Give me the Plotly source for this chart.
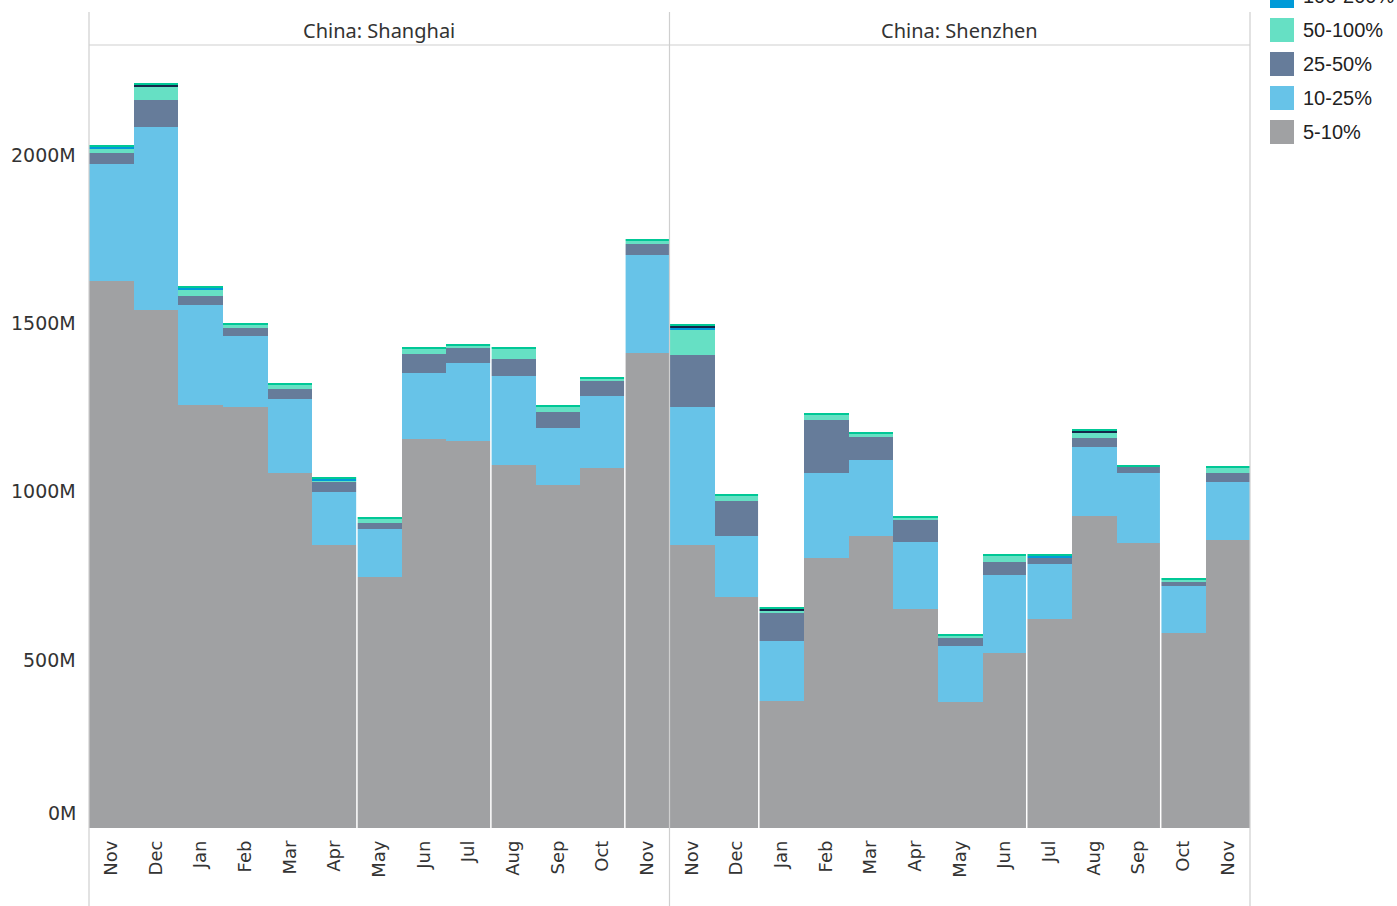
import plotly.graph_objects as go
from plotly.subplots import make_subplots

months = ["Nov", "Dec", "Jan", "Feb", "Mar", "Apr", "May", "Jun", "Jul", "Aug", "Sep", "Oct", "Nov"]
cities = ["China: Shanghai", "China: Shenzhen"]

series_names = ["5-10%", "10-25%", "25-50%", "50-100%", "100-200%", "200-500%", ">500%"]
series_colors = ["#a0a1a3", "#67c3e8", "#667c9a", "#66e0c4", "#009ad8", "#14284a", "#00c896"]

# Values in millions, stacked bottom -> top
sh_5_10 = [1626, 1540, 1258, 1252, 1056, 840, 745, 1157, 1151, 1077, 1018, 1068, 1412]
sh_10_25 = [346, 543, 297, 211, 217, 157, 142, 196, 229, 267, 169, 214, 291]
sh_25_50 = [34, 80, 24, 21, 30, 30, 18, 54, 47, 48, 50, 47, 33]
sh_50_100 = [14, 39, 20, 12, 15, 6, 12, 17, 6, 32, 15, 6, 9]
sh_100_200 = [3, 0, 6, 0, 0, 5, 0, 0, 0, 0, 0, 0, 0]
sh_200_500 = [0, 6, 0, 0, 0, 0, 0, 0, 0, 0, 0, 0, 0]
sh_500p = [5, 6, 6, 5, 5, 6, 6, 6, 6, 6, 6, 6, 6]

sz_5_10 = [840, 685, 377, 801, 866, 650, 374, 519, 620, 926, 846, 579, 855]
sz_10_25 = [412, 181, 178, 255, 226, 199, 166, 232, 163, 205, 210, 139, 172]
sz_25_50 = [152, 104, 83, 155, 71, 68, 24, 38, 18, 29, 15, 12, 29]
sz_50_100 = [77, 15, 6, 17, 6, 3, 6, 18, 0, 12, 0, 6, 12]
sz_100_200 = [3, 0, 0, 0, 0, 0, 0, 0, 6, 0, 0, 0, 0]
sz_200_500 = [6, 0, 6, 0, 0, 0, 0, 0, 0, 6, 0, 0, 0]
sz_500p = [6, 6, 6, 6, 6, 6, 6, 6, 6, 6, 6, 6, 6]

shanghai = [sh_5_10, sh_10_25, sh_25_50, sh_50_100, sh_100_200, sh_200_500, sh_500p]
shenzhen = [sz_5_10, sz_10_25, sz_25_50, sz_50_100, sz_100_200, sz_200_500, sz_500p]

y_ticks = [0, 500, 1000, 1500, 2000]
y_tick_text = ["0M", "500M", "1000M", "1500M", "2000M"]

# White separators seen between some months (bar boundaries, in category units)
sep_sh = [5.5, 8.5, 11.5]
sep_sz = [1.5, 7.5, 10.5]

W, H = 1397, 906
ML, MR, MT, MB = 89, 147, 45, 78
PW, PH = W - ML - MR, H - MT - MB

def px_x(p):  # page pixel -> paper x
    return (p - ML) / PW

def px_y(p):  # page pixel -> paper y
    return (H - MB - p) / PH

fig = make_subplots(rows=1, cols=2, shared_yaxes=True, horizontal_spacing=0)
xs = list(range(len(months)))
for col, data in enumerate([shanghai, shenzhen], start=1):
    for name, color, vals in zip(series_names, series_colors, data):
        fig.add_trace(go.Bar(x=xs, y=vals, name=name, marker_color=color,
                             marker_line_width=0, showlegend=False,
                             hovertemplate=name + ": %{y}M<extra></extra>"),
                      row=1, col=col)

fig.update_layout(barmode="stack", bargap=0, width=W, height=H,
                  margin=dict(l=ML, r=MR, t=MT, b=MB, autoexpand=False),
                  plot_bgcolor="white", paper_bgcolor="white",
                  font=dict(family="DejaVu Sans", size=15, color="#333333"),
                  showlegend=False)

for ax in ["xaxis", "xaxis2"]:
    fig.layout[ax].update(tickmode="array", tickvals=xs, ticktext=months,
                          tickangle=-90, range=[-0.5, 12.5], showgrid=False,
                          zeroline=False, showline=False, ticks="",
                          ticklabelstandoff=8,
                          tickfont=dict(family="DejaVu Sans", size=18, color="#333333"))
fig.update_yaxes(range=[0, 2326], showgrid=False, zeroline=False, showline=False,
                 showticklabels=False, ticks="")

# y tick labels as annotations (Tableau lifts the bottom label)
for v, t in zip(y_ticks, y_tick_text):
    fig.add_annotation(x=px_x(78), xref="paper", y=v, yref="y", text=t,
                       showarrow=False, xanchor="right",
                       yanchor="bottom" if v == 0 else "middle",
                       yshift=2 if v == 0 else 0,
                       font=dict(family="DejaVu Sans", size=19, color="#333333"))

# separators
for xv in sep_sh:
    fig.add_shape(type="line", xref="x", yref="paper", x0=xv, x1=xv, y0=0, y1=1,
                  line=dict(color="white", width=1.5))
for xv in sep_sz:
    fig.add_shape(type="line", xref="x2", yref="paper", x0=xv, x1=xv, y0=0, y1=1,
                  line=dict(color="white", width=1.5))

# frame lines
grid_col = "#cfcfcf"
for xp in [0, 0.5, 1]:
    fig.add_shape(type="line", xref="paper", yref="paper", x0=xp, x1=xp,
                  y0=px_y(906), y1=px_y(12), line=dict(color=grid_col, width=1.2))
fig.add_shape(type="line", xref="paper", yref="paper", x0=0, x1=1, y0=1, y1=1,
              line=dict(color=grid_col, width=1.2))

# facet headers
for i, c in enumerate(cities):
    fig.add_annotation(x=0.25 + 0.5 * i, xref="paper", y=px_y(30), yref="paper",
                       text=c, showarrow=False, xanchor="center", yanchor="middle",
                       font=dict(family="Noto Sans", size=20, color="#333333"))

# manual legend (top entries scrolled off the top, as in the reference)
legend_centers = [132, 98, 64, 30, -4, -38, -72]
for name, color, cy in zip(series_names, series_colors, legend_centers):
    fig.add_shape(type="rect", xref="paper", yref="paper",
                  x0=px_x(1270), x1=px_x(1294), y0=px_y(cy + 12), y1=px_y(cy - 12),
                  fillcolor=color, line=dict(width=0))
    fig.add_annotation(x=px_x(1301), xref="paper", y=px_y(cy), yref="paper",
                       text=name, showarrow=False, xanchor="left", yanchor="middle",
                       font=dict(family="Liberation Sans", size=20, color="#222222"))

fig.write_html("out.html", config={"displayModeBar": False},
               post_script="document.body.style.margin='0';document.body.style.overflow='hidden';")
